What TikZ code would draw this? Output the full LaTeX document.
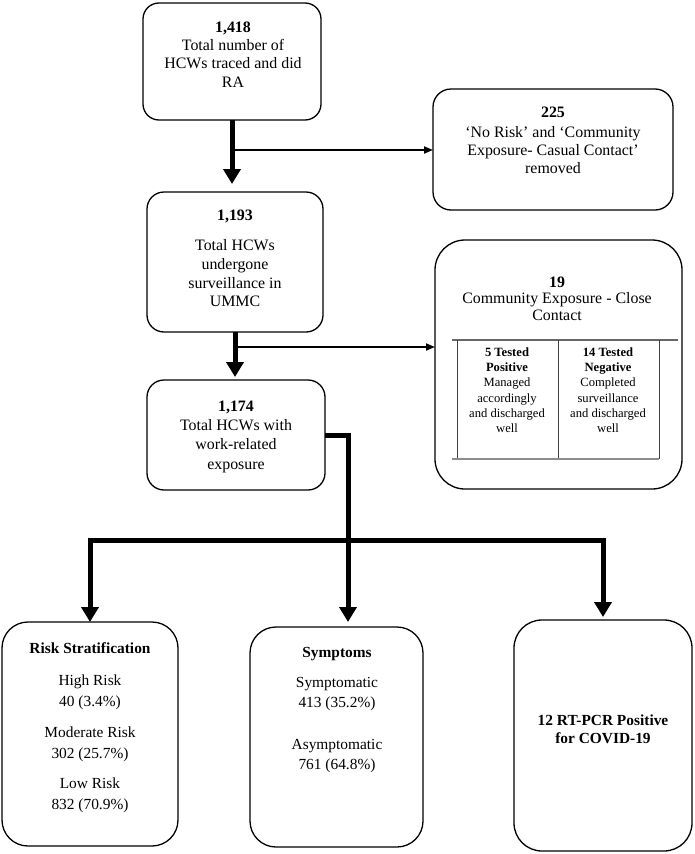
\documentclass[tikz,border=0pt]{standalone}
\usepackage{fontspec}
\setmainfont{Liberation Serif}
\usetikzlibrary{arrows.meta}
\begin{document}
\begin{tikzpicture}[x=1pt,y=-1pt,
  box/.style={draw,line width=1.3pt,inner sep=0pt,outer sep=0pt,rectangle,rounded corners=#1},
  box/.default=16pt,
  txt/.style={anchor=north,inner sep=0pt,align=center,font=\fontsize{15.4}{#1}\selectfont},
  txt/.default=18.3pt,
  toptxt/.style={anchor=north,inner sep=0pt,align=center,font=\fontsize{15.9}{#1}\selectfont},
  toptxt/.default=18.3pt,
  cell/.style={anchor=north,inner sep=0pt,align=center,font=\fontsize{12.6}{15.2}\selectfont},
  fat/.style={line width=5pt,line join=miter},
  fatarrow/.style={fat,-{Triangle[width=17pt,length=15pt]}},
  thinarrow/.style={line width=1.8pt,-{Triangle[width=7pt,length=9pt]}},
  tline/.style={line width=0.9pt,black!75}
]
\useasboundingbox (0,0) rectangle (694,854);

% boxes
\node[box=16pt,minimum width=178pt,minimum height=117pt] (b1) at (232,61.5) {};
\node[box=18pt,minimum width=240pt,minimum height=121pt] (b225) at (553,149.5) {};
\node[box=17pt,minimum width=176pt,minimum height=140pt] (b2) at (235,262) {};
\node[box=30pt,minimum width=247pt,minimum height=249pt] (b19) at (558.5,364.5) {};
\node[box=17pt,minimum width=178pt,minimum height=110pt] (b3) at (236,435) {};
\node[box=26pt,minimum width=176pt,minimum height=224pt] (b4) at (90,734) {};
\node[box=26pt,minimum width=173pt,minimum height=220pt] (b5) at (336.5,737) {};
\node[box=28pt,minimum width=178pt,minimum height=231pt] (b6) at (603,735.5) {};

% texts
\node[toptxt] (t1) at (233,21.5) {{\bfseries 1,418}\\Total number of\\HCWs traced and did\\RA};
\node[toptxt] (t225) at (553,106.5) {{\bfseries 225}\\[1.7pt]‘No Risk’ and ‘Community\\Exposure- Casual Contact’\\removed};
\node[toptxt=18.8pt] (t2) at (235,210) {{\bfseries 1,193}\\[11pt]Total HCWs\\undergone\\surveillance in\\UMMC};
\node[toptxt=19.3pt] (t3) at (236,400.5) {{\bfseries 1,174}\\Total HCWs with\\work-related\\exposure};
\node[toptxt=16.7pt] (t19) at (557,276.5) {{\bfseries 19}\\Community Exposure - Close\\Contact};
\node[cell] (c1) at (507,347.5) {{\bfseries 5 Tested}\\{\bfseries Positive}\\Managed\\accordingly\\and discharged\\well};
\node[cell] (c2) at (608,347.5) {{\bfseries 14 Tested}\\{\bfseries Negative}\\Completed\\surveillance\\and discharged\\well};
\node[txt=21pt] (t4) at (90,642.5) {{\bfseries Risk Stratification}\\[11pt]High Risk\\40 (3.4\%)\\[10pt]Moderate Risk\\302 (25.7\%)\\[9pt]Low Risk\\832 (70.9\%)};
\node[txt=20pt] (t5) at (337,647.5) {{\bfseries Symptoms}\\[10pt]Symptomatic\\413 (35.2\%)\\[22pt]Asymptomatic\\761 (64.8\%)};
\node[txt=18pt] (t6) at (603,714.5) {\bfseries 12 RT-PCR Positive\\\bfseries for COVID-19};

% table inside box 19
\draw[line width=1.2pt,black!60] (452,340) -- (678,340);
\draw[tline] (457,340) -- (457,459);
\draw[tline] (558,340) -- (558,459);
\draw[tline] (659,340) -- (659,459);
\draw[line width=1.8pt,black!45] (452,459) -- (659,459);

% connectors
\draw[fatarrow,shorten >=8pt] (b1.south) -- (b1.south |- b2.north);
\coordinate (k1) at (232,150);
\draw[thinarrow] (k1) -- (k1 -| b225.west);

\draw[fatarrow,shorten >=3pt] (b2.south) -- (b2.south |- b3.north);
\coordinate (k2) at (235,347);
\draw[thinarrow] (k2) -- (k2 -| b19.west);

\coordinate (hj) at (348,540);
\draw[fatarrow,shorten >=5pt] (b3.east) -| (hj |- b5.north);
\draw[fatarrow] (hj) -| (b4.north);
\draw[fatarrow,shorten >=3pt] (hj) -| (b6.north);
\end{tikzpicture}
\end{document}
